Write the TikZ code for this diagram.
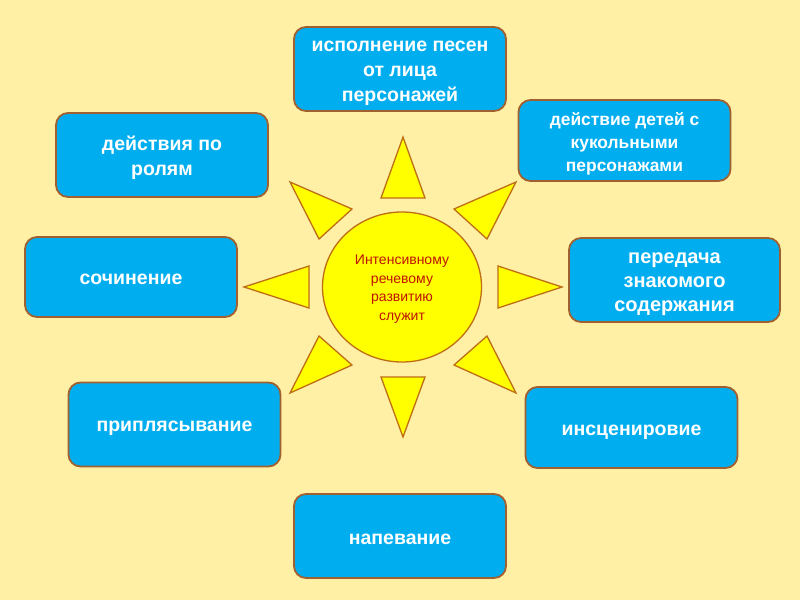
\documentclass[tikz,border=0pt]{standalone}
\usepackage{fontspec}
\setmainfont{Liberation Sans}
\usetikzlibrary{shapes.geometric}
\definecolor{bgcol}{RGB}{255,240,165}
\definecolor{boxblue}{RGB}{0,174,239}
\definecolor{boxborder}{RGB}{160,96,48}
\definecolor{sunyellow}{RGB}{255,255,0}
\definecolor{sunborder}{RGB}{190,110,20}
\definecolor{suntext}{RGB}{190,20,0}
\tikzset{
  infobox/.style={draw=boxborder, line width=1.8pt, fill=boxblue, rounded corners=12pt,
    inner sep=0pt, minimum width=212pt, minimum height=84pt},
  boxtext/.style={text=white, align=center, inner sep=0pt,
    font=\bfseries\fontsize{19.5}{25}\selectfont},
  smalltext/.style={boxtext, font=\bfseries\fontsize{17.4}{23}\selectfont},
  ray/.style={draw=sunborder, line width=1.3pt, fill=sunyellow, line join=miter},
}
\begin{document}
\begin{tikzpicture}[x=1pt,y=-1pt]
\useasboundingbox (0,0) rectangle (800,600);
\fill[bgcol] (0,0) rectangle (800,600);
% rays
\path[ray] (403,137) -- (425,198) -- (381,198) -- cycle;
\path[ray] (403,437) -- (425,377) -- (381,377) -- cycle;
\path[ray] (244,287) -- (309,266) -- (309,308) -- cycle;
\path[ray] (562,287) -- (498,266) -- (498,308) -- cycle;
\path[ray] (290,182) -- (352,209) -- (319,239) -- cycle;
\path[ray] (516,182) -- (454,209) -- (487,239) -- cycle;
\path[ray] (290,393) -- (352,365) -- (319,336) -- cycle;
\path[ray] (516,393) -- (454,365) -- (487,336) -- cycle;
% sun
\node[ellipse, draw=sunborder, line width=1.3pt, fill=sunyellow, minimum width=159pt, minimum height=150pt,
  inner sep=0pt] (sun) at (402,287) {};
\node[text=suntext, align=center, inner sep=0pt, font=\fontsize{14}{18.5}\selectfont] (suntxt)
  at ([yshift=-2pt]sun.center) {Интенсивному\\речевому\\развитию\\служит};
% boxes
\node[infobox] (songs) at (400,69) {};
\node[boxtext] (songst) at ([yshift=-4pt]songs.center) {исполнение песен\\от лица\\персонажей};
\node[infobox] (roles) at (162,155) {};
\node[boxtext] (rolest) at ([yshift=-3pt]roles.center) {действия по\\ролям};
\node[infobox, minimum height=81pt] (puppets) at (624.5,140.5) {};
\node[smalltext] (puppetst) at ([yshift=-3pt]puppets.center) {действие детей с\\кукольными\\персонажами};
\node[infobox, minimum height=80pt] (compose) at (131,277) {};
\node[boxtext] (composet) at ([yshift=-2pt]compose.center) {сочинение};
\node[infobox, minimum width=211pt] (retell) at (674.5,280) {};
\node[boxtext, font=\bfseries\fontsize{20}{24}\selectfont] (retellt) at ([yshift=-4.5pt]retell.center) {передача\\знакомого\\содержания};
\node[infobox] (dance) at (174.5,424.5) {};
\node[boxtext] (dancet) at ([yshift=-4pt]dance.center) {приплясывание};
\node[infobox, minimum height=81pt] (stage) at (631.5,427.5) {};
\node[boxtext] (staget) at ([yshift=-4.5pt]stage.center) {инсценировие};
\node[infobox] (hum) at (400,536) {};
\node[boxtext] (humt) at ([yshift=-3pt]hum.center) {напевание};
\end{tikzpicture}
\end{document}
